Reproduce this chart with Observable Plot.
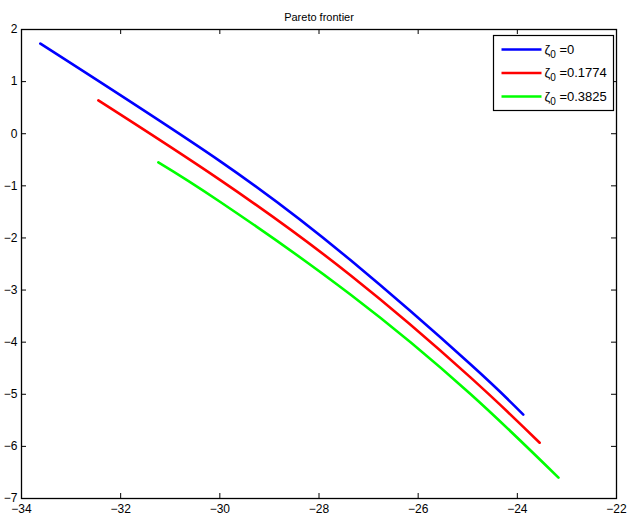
<!DOCTYPE html>
<html>
<head>
<meta charset="utf-8">
<script src="https://cdn.jsdelivr.net/npm/d3@7"></script>
<script src="https://cdn.jsdelivr.net/npm/@observablehq/plot@0.6"></script>
<style>
  html, body { margin: 0; padding: 0; background: #fff; }
  #chart { width: 629px; height: 520px; }
  svg { font-family: "Liberation Sans", Arial, Helvetica, sans-serif; }
</style>
</head>
<body>
<div id="chart"></div>
<script>
// ---- data ----
const title = "Pareto frontier";
const zetaValues = ["0", "0.1774", "0.3825"];
const seriesColors = ["#0000ff", "#ff0000", "#00ff00"];

const blueX = [-33.62, -29.99, -27.36, -24.94, -23.88];
const blueY = [1.73, -0.53, -2.43, -4.43, -5.39];
const redX = [-32.45, -29.99, -27.36, -24.94, -23.55];
const redY = [0.64, -0.89, -2.72, -4.68, -5.93];
const greenX = [-31.24, -29.99, -27.36, -24.94, -23.17];
const greenY = [-0.55, -1.31, -3.09, -5.00, -6.60];

const xTicks = [-34, -32, -30, -28, -26, -24, -22];
const yTicks = [2, 1, 0, -1, -2, -3, -4, -5, -6, -7];

// ---- build table ----
const seriesX = [blueX, redX, greenX];
const seriesY = [blueY, redY, greenY];
const rows = [];
seriesX.forEach((xs, s) => xs.forEach((x, i) => rows.push({s, x, y: seriesY[s][i]})));

const W = 629, H = 520;
const mL = 21, mR = 13, mT = 29, mB = 22;
const innerW = W - mL - mR, innerH = H - mT - mB;
const tickLen = 5;
const fmt = d => d < 0 ? "\u2212" + Math.abs(d) : String(d);

const plot = Plot.plot({
  width: W, height: H,
  marginLeft: mL, marginRight: mR, marginTop: mT, marginBottom: mB,
  style: {fontFamily: '"Liberation Sans", Arial, sans-serif', fontSize: "12px", color: "#000", background: "#fff"},
  x: {domain: [-34, -22], label: null},
  y: {domain: [-7, 2], label: null},
  marks: [
    Plot.line(rows, {x: "x", y: "y", z: "s", stroke: d => seriesColors[d.s], strokeWidth: 2.6, curve: "natural"}),
    // inward ticks on all four sides
    Plot.ruleX(xTicks, {x: d => d, insetTop: innerH - tickLen, stroke: "#000", strokeWidth: 1}),
    Plot.ruleX(xTicks, {x: d => d, insetBottom: innerH - tickLen, stroke: "#000", strokeWidth: 1}),
    Plot.ruleY(yTicks, {y: d => d, insetRight: innerW - tickLen, stroke: "#000", strokeWidth: 1}),
    Plot.ruleY(yTicks, {y: d => d, insetLeft: innerW - tickLen, stroke: "#000", strokeWidth: 1}),
    Plot.axisX({ticks: xTicks, tickSize: 0, tickPadding: 6, tickFormat: fmt, fontSize: 12, label: null}),
    Plot.axisY({ticks: yTicks, tickSize: 0, tickPadding: 4, tickFormat: fmt, fontSize: 12, label: null}),
    Plot.frame({stroke: "#000", strokeWidth: 1.3}),
    Plot.text([title], {text: d => d, frameAnchor: "top", dy: -16, fontSize: 11, fill: "#000"})
  ]
});
document.getElementById("chart").appendChild(plot);

// ---- legend (inside axes, top right) ----
const svg = d3.select(plot);
const lg = svg.append("g").attr("transform", "translate(493.5,35.5)");
lg.append("rect").attr("width", 120).attr("height", 75)
  .attr("fill", "#fff").attr("stroke", "#000").attr("stroke-width", 1.2);
zetaValues.forEach((v, i) => {
  const cy = 14 + i * 23.5;
  lg.append("line").attr("x1", 8).attr("x2", 48).attr("y1", cy).attr("y2", cy)
    .attr("stroke", seriesColors[i]).attr("stroke-width", 2.6);
  const t = lg.append("text").attr("x", 51).attr("y", cy + 4)
    .attr("text-anchor", "start").attr("font-size", 13).attr("fill", "#000");
  t.append("tspan").text("\u03b6");
  t.append("tspan").attr("font-size", 10).attr("dy", 4).text("0");
  t.append("tspan").attr("dy", -4).text(" =" + v);
});
</script>
</body>
</html>
